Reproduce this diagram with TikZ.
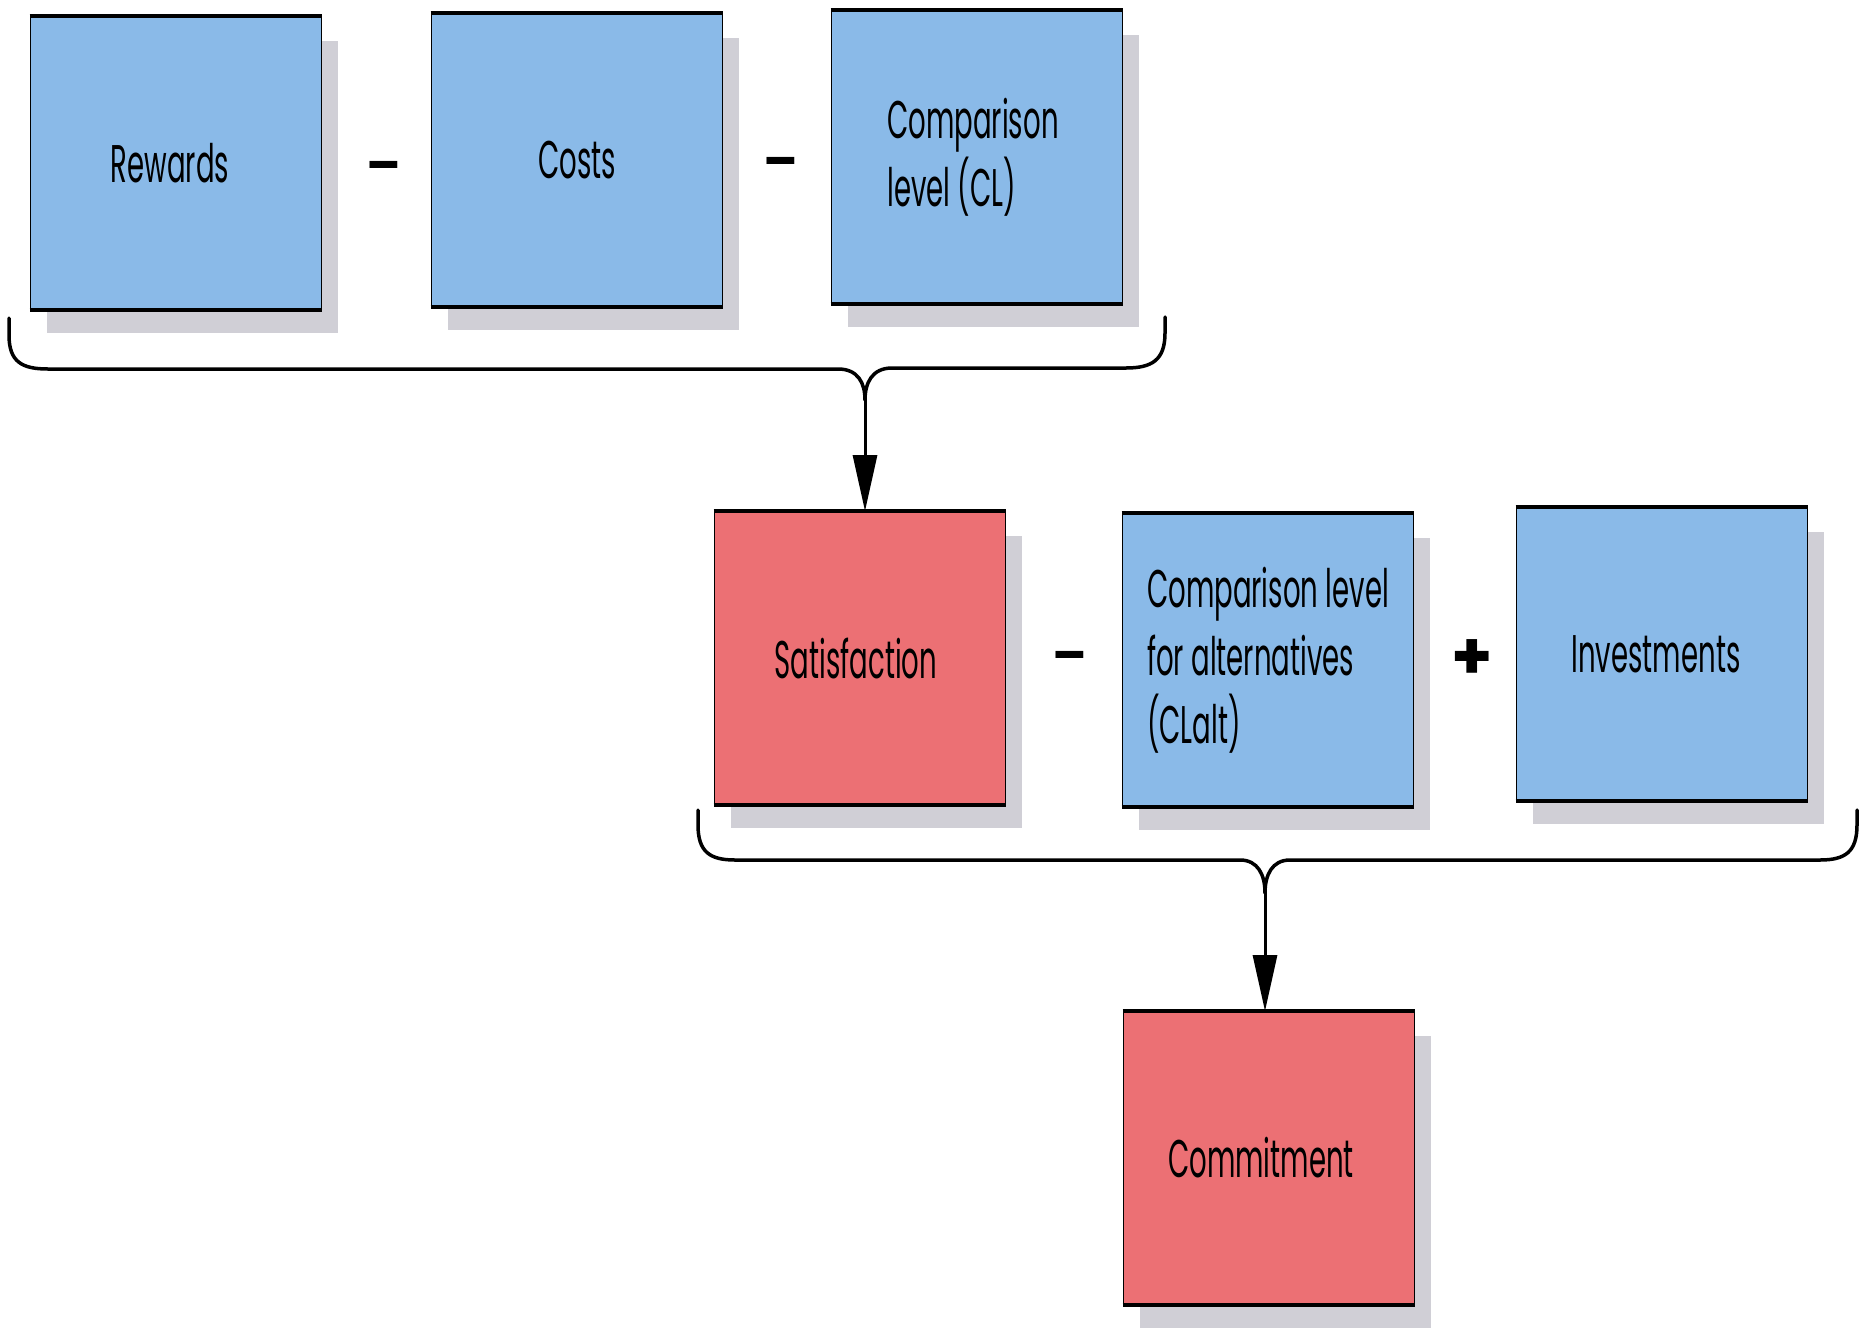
\documentclass[tikz,border=0pt]{standalone}
\usepackage{fontspec}
\setmainfont{Poppins}[FakeStretch=0.52]
\newfontfamily\opfont{Poppins}
\usetikzlibrary{arrows.meta,shadows}
\definecolor{boxblue}{RGB}{138,186,232}
\definecolor{boxred}{RGB}{236,112,116}
\definecolor{shadowgray}{RGB}{208,207,214}
\tikzset{
  box/.style={draw=black, line width=1.8pt, minimum width=291pt, minimum height=292pt,
    inner sep=0pt, align=left, font=\fontsize{53}{68}\selectfont,
    drop shadow={shadow xshift=16pt, shadow yshift=-24pt, fill=shadowgray, opacity=1}},
  bluebox/.style={box, fill=boxblue},
  redbox/.style={box, fill=boxred},
  op/.style={font=\opfont\bfseries\fontsize{50}{50}\selectfont, inner sep=0pt},
  bigop/.style={font=\opfont\bfseries\fontsize{66}{66}\selectfont, inner sep=0pt},
  bracepath/.style={line width=3.5pt, line cap=round, line join=round},
  arr/.style={line width=3pt, -{Triangle[length=56pt,width=24pt]}},
  edge/.style={line width=3.5pt},
}
\begin{document}
\begin{tikzpicture}[x=1pt,y=-1pt]
\useasboundingbox (0,0) rectangle (1865,1341);
% row 1
\node[bluebox] (rew) at (176,163) {Rewards\hspace*{12pt}};
\node[bluebox] (cos) at (577,160) {Costs};
\node[bluebox] (cl)  at (977,157) {Comparison\hspace*{8pt}\\level (CL)};
\node[op] (m1) at (384,172) {–};
\node[op] (m2) at (781,168) {–};
% row 2
\node[redbox] (sat) at (860,658) {Satisfaction\hspace*{8pt}};
\node[bluebox] (alt) at (1268,660) {Comparison level\\for alternatives\\(CLalt)};
\node[bluebox] (inv) at (1662,654) {Investments\hspace*{12pt}};
\node[op] (m3) at (1070,662) {–};
\node[bigop] (p1) at (1472,660) {+};
% row 3
\node[redbox] (com) at (1269,1158) {Commitment\hspace*{16pt}};
% thick top and bottom edges
\foreach \n in {rew,cos,cl,sat,alt,inv,com}
  \draw[edge] (\n.north west) -- (\n.north east) (\n.south west) -- (\n.south east);
% brace 1
\coordinate (b1) at (865,400);
\coordinate (b1l) at (9,318);
\coordinate (b1r) at (1165,317);
\draw[bracepath] (b1l) -- (9,335) .. controls (9,362) and (22,369) .. (48,369) -- (838,369)
  .. controls (858,369) and (865,383) .. (b1);
\draw[bracepath] (b1r) -- (1165,333) .. controls (1165,360) and (1152,368) .. (1126,368) -- (892,368)
  .. controls (872,368) and (865,383) .. (b1);
\draw[arr] (b1) -- (b1 |- sat.north);
% brace 2
\coordinate (b2) at (1265,893);
\coordinate (b2l) at (698,810);
\coordinate (b2r) at (1857,810);
\draw[bracepath] (b2l) -- (698,825) .. controls (698,852) and (710,860) .. (735,860) -- (1240,860)
  .. controls (1258,860) and (1265,875) .. (b2);
\draw[bracepath] (b2r) -- (1857,825) .. controls (1857,852) and (1845,860) .. (1820,860) -- (1290,860)
  .. controls (1272,860) and (1265,875) .. (b2);
\draw[arr] (b2) -- (b2 |- com.north);
\end{tikzpicture}
\end{document}
